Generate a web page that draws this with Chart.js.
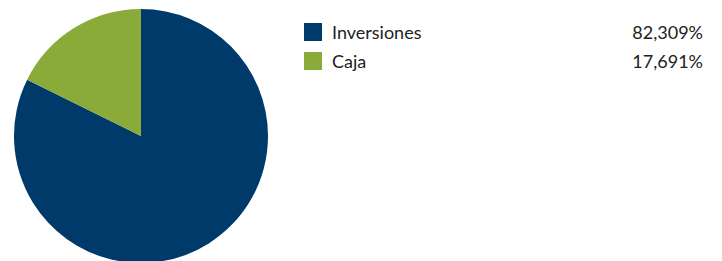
<!DOCTYPE html>
<html>
<head>
<meta charset="utf-8">
<script src="https://cdn.jsdelivr.net/npm/chart.js@4/dist/chart.umd.min.js"></script>
<style>
    html, body { margin: 0; padding: 0; width: 722px; height: 261px; overflow: hidden; background: #fff; font-family: Lato, sans-serif; }
    #pieWrap { position: absolute; left: 14px; top: 9px; width: 254px; height: 254px; }
    #legend { position: absolute; left: 304px; top: 23px; width: 399px; }
    .row { display: flex; align-items: center; height: 18px; margin-bottom: 11px; font-size: 18px; color: #222; }
    .box { width: 18px; height: 18px; margin-right: 10px; flex: none; }
    .label { flex: 1; }
    .value { text-align: right; }
</style>
</head>
<body>
<div id="pieWrap"><canvas id="pieChart" width="254" height="254"></canvas></div>
<div id="legend"></div>
<script>
const categories = ['Inversiones', 'Caja'];
const values = [82.309, 17.691];
const sliceColors = ['#003A6A', '#8AAA3A'];

// Leyenda a la derecha
function buildLegend() {
    const legend = document.getElementById('legend');
    categories.forEach((cat, i) => {
        const row = document.createElement('div');
        row.className = 'row';
        row.innerHTML = `<div class="box" style="background:${sliceColors[i]}"></div>` +
            `<div class="label">${cat}</div>` +
            `<div class="value">${values[i].toFixed(3).replace('.', ',')}%</div>`;
        legend.appendChild(row);
    });
}

const ctx = document.getElementById('pieChart').getContext('2d');
const chart = new Chart(ctx, {
    type: 'pie',
    data: {
        labels: categories,
        datasets: [{
            data: values,
            backgroundColor: sliceColors,
            borderWidth: 0,
        }],
    },
    options: {
        responsive: false,
        animation: false,
        plugins: {
            legend: { display: false },
            tooltip: { enabled: false },
        },
    },
});

buildLegend();
</script>
</body>
</html>
